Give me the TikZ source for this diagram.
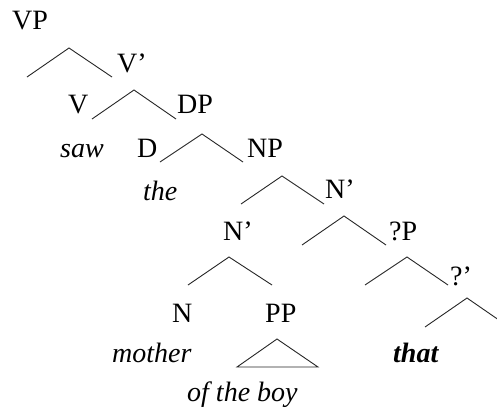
\documentclass[tikz,border=0pt]{standalone}
\usepackage{fontspec}
\setmainfont{Liberation Serif}
\begin{document}
\begin{tikzpicture}[x=1pt,y=-1pt,
  lab/.style={anchor=base west,inner sep=0pt,font=\fontsize{28}{32}\selectfont},
  branch/.style={draw=black!85,line width=0.9pt}]
\useasboundingbox (0,0) rectangle (497,410);
\clip (0,0) rectangle (497,410);
% labels
\node[lab] (vp)  at (12,29)  {VP};
\node[lab] (vbar) at (117,72) {V’};
\node[lab] (v)   at (68,113) {V};
\node[lab] (dp)  at (177,113) {DP};
\node[lab] (saw) at (60,157) {\itshape saw};
\node[lab] (d)   at (137,157) {D};
\node[lab] (the) at (143,200) {\itshape the};
\node[lab] (np)  at (247,157) {NP};
\node[lab] (nbarA) at (325,198) {N’};
\node[lab] (nbarB) at (223,240) {N’};
\node[lab] (qp)  at (389,240) {?P};
\node[lab] (qbar) at (450,285) {?’};
\node[lab] (n)   at (172,322) {N};
\node[lab] (pp)  at (265,322) {PP};
\node[lab] (mother) at (112,362) {\itshape mother};
\node[lab] (that) at (393,362) {\bfseries\itshape that};
\node[lab] (oftheboy) at (187,401) {\itshape of the boy};
% branch coordinates
\coordinate (l1) at (27,77);  \coordinate (a1) at (69,48);  \coordinate (r1) at (112,77);
\coordinate (l2) at (92,119); \coordinate (a2) at (134,90); \coordinate (r2) at (176,119);
\coordinate (l3) at (160,162);\coordinate (a3) at (202,134);\coordinate (r3) at (243,162);
\coordinate (l4) at (241,204);\coordinate (a4) at (282,176);\coordinate (r4) at (324,204);
\coordinate (l5) at (302,245);\coordinate (a5) at (344,216);\coordinate (r5) at (386,245);
\coordinate (l6) at (188,285);\coordinate (a6) at (229,257);\coordinate (r6) at (272,285);
\coordinate (l7) at (365,285);\coordinate (a7) at (407,257);\coordinate (r7) at (448,285);
\coordinate (l8) at (425,327);\coordinate (a8) at (467,298);\coordinate (r8) at (509,327);
\coordinate (tl) at (237,367);\coordinate (ta) at (277,339);\coordinate (tr) at (318,367);
\foreach \i in {1,...,8} {\draw[branch] (l\i) -- (a\i) -- (r\i);}
\draw[branch] (tl) -- (ta) -- (tr) -- cycle;
\end{tikzpicture}
\end{document}
